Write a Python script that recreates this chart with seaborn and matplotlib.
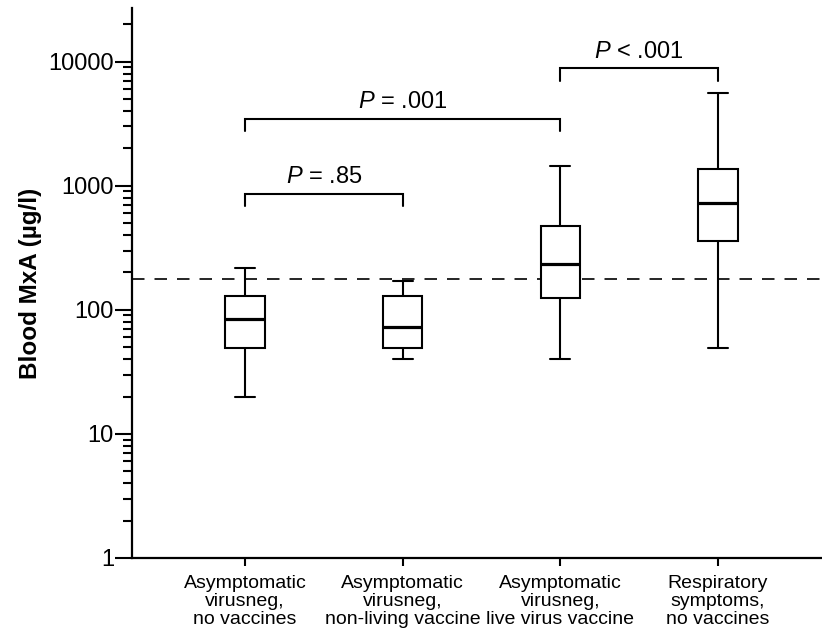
import numpy as np
import pandas as pd
import matplotlib
matplotlib.use("Agg")
import matplotlib.pyplot as plt
import seaborn as sns
from matplotlib.ticker import FixedLocator, NullFormatter

# ---- data ----
groups = [
    "Asymptomatic\nvirusneg,\nno vaccines",
    "Asymptomatic\nvirusneg,\nnon-living vaccine",
    "Asymptomatic\nvirusneg,\nlive virus vaccine",
    "Respiratory\nsymptoms,\nno vaccines",
]
box_min = [20, 40, 40, 49]
box_q1 = [49, 49, 125, 360]
box_median = [85, 73, 235, 730]
box_q3 = [130, 128, 476, 1370]
box_max = [218, 171, 1450, 5620]
cutoff = 178

y_ticks = [1, 10, 100, 1000, 10000]
y_tick_labels = ["1", "10", "100", "1000", "10000"]

comparisons = [(0, 1), (0, 2), (2, 3)]
comparison_labels = [r"$P$ = .85", r"$P$ = .001", r"$P$ < .001"]
bracket_heights = [862, 3470, 8790]
bracket_drop = 0.80

# ---- build table: five-number summary per group ----
rows = []
for g, a, b, c, d, e in zip(groups, box_min, box_q1, box_median, box_q3, box_max):
    for v in (a, b, c, d, e):
        rows.append({"group": g, "value": v})
df = pd.DataFrame(rows)

sns.set_style("ticks")
plt.rcParams["font.family"] = ["Liberation Sans", "DejaVu Sans"]
plt.rcParams["mathtext.fontset"] = "custom"
plt.rcParams["mathtext.it"] = "Liberation Sans:italic"
plt.rcParams["mathtext.rm"] = "Liberation Sans"

fig = plt.figure(figsize=(8.22, 6.35), dpi=100)
ax = fig.add_axes([132 / 822, 77 / 635, 690 / 822, 550 / 635])

sns.boxplot(
    data=df, x="group", y="value", order=groups, ax=ax,
    color="white", linecolor="black", linewidth=1.5, width=0.25,
    whis=(0, 100), log_scale=True, saturation=1, showfliers=False,
    medianprops={"linewidth": 2.3, "color": "black"},
)

ax.axhline(cutoff, color="black", linewidth=1.2, dashes=(7.5, 6), zorder=0)

# significance brackets
for (i, j), lab, h in zip(comparisons, comparison_labels, bracket_heights):
    low = h * bracket_drop
    ax.plot([i, i, j, j], [low, h, h, low], color="black", linewidth=1.5,
            solid_joinstyle="miter")
    ax.annotate(lab, xy=((i + j) / 2, h), xytext=(0, 7.5),
                textcoords="offset points", ha="center", va="baseline",
                fontsize=17, color="black")

ax.set_yscale("log")
ax.set_ylim(1, 27000)
ax.set_xlim(-0.717, 3.66)
ax.yaxis.set_major_locator(FixedLocator(y_ticks))
ax.set_yticklabels(y_tick_labels)
minor = [m * 10 ** k for k in range(0, 5) for m in range(2, 10)]
ax.yaxis.set_minor_locator(FixedLocator(minor))
ax.yaxis.set_minor_formatter(NullFormatter())

ax.tick_params(axis="y", which="major", length=12, width=1.5, pad=1,
               labelsize=17, colors="black")
ax.tick_params(axis="y", which="minor", length=6.5, width=1.5, colors="black")
ax.tick_params(axis="x", which="major", length=6, width=1.5, pad=6.5,
               labelsize=14, colors="black")
for t in ax.get_xticklabels():
    t.set_linespacing(1.08)

ax.set_xlabel("")
ax.set_ylabel("Blood MxA (µg/l)", fontsize=17.5, fontweight="bold", color="black")
ax.yaxis.set_label_coords(-0.131, 0.5)

for s in ("top", "right"):
    ax.spines[s].set_visible(False)
for s in ("left", "bottom"):
    ax.spines[s].set_linewidth(1.6)
    ax.spines[s].set_color("black")

fig.savefig("out.png", dpi=100)
